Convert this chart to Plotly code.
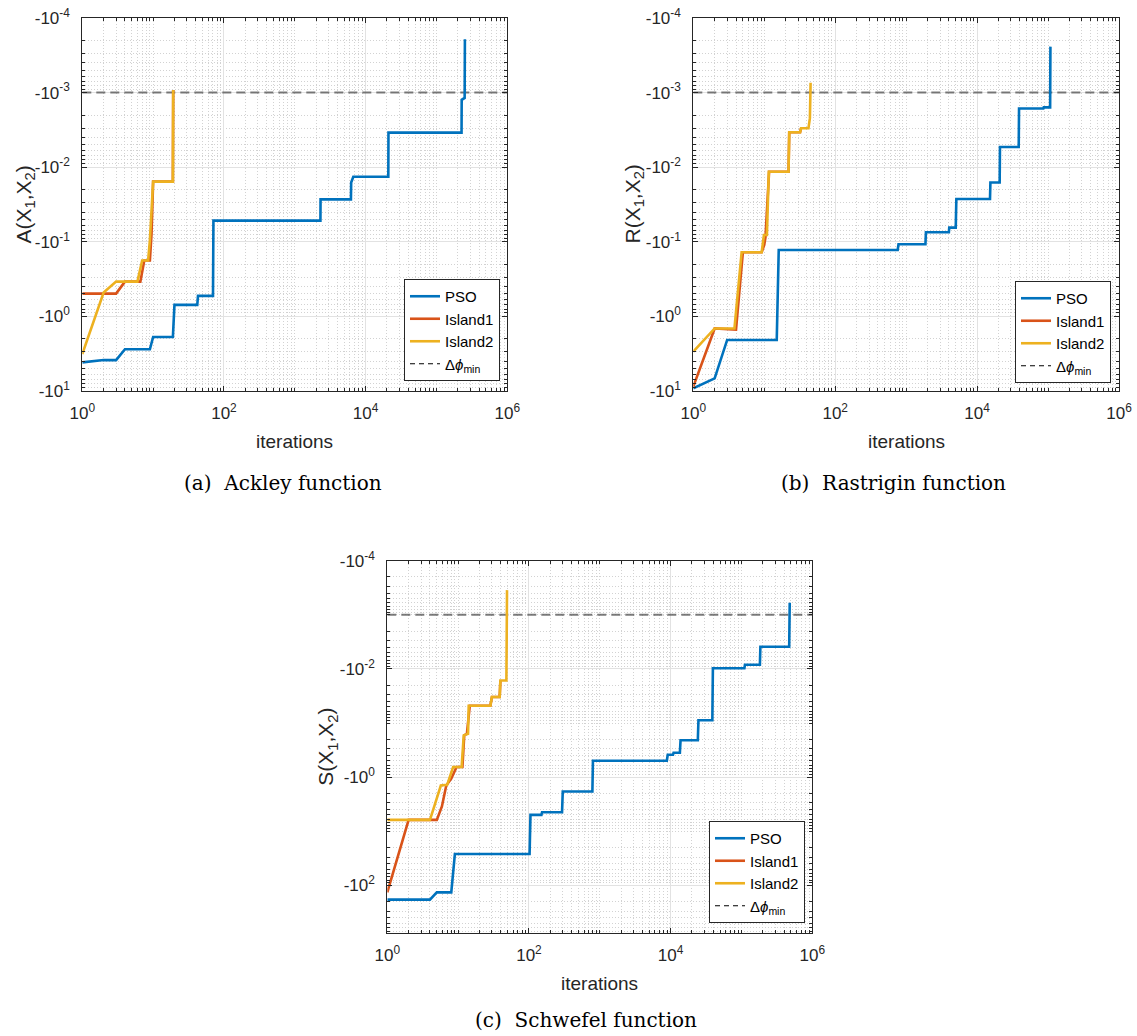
import plotly.graph_objects as go

# ---------------- data ----------------
iter_range = [1, 1e6]
delta_phi_min = -1e-3
x_exponents = [0, 2, 4, 6]
y_exponents_ab = [-4, -3, -2, -1, 0, 1]
y_exponents_c = [-4, -2, 0, 2]

# (a) Ackley
ackley_pso_it = [1, 2, 3, 4, 9, 10, 19, 20, 42, 43, 70, 71, 2300, 2310, 6200, 6250, 6700,
                 20900, 21000, 226000, 227000, 250000, 252000]
ackley_pso_f = [-4.13, -3.85, -3.85, -2.76, -2.76, -1.89, -1.89, -0.70, -0.70, -0.53, -0.53,
                -0.052, -0.052, -0.027, -0.027, -0.016, -0.0134, -0.0134, -0.00344, -0.00344,
                -0.00125, -0.00118, -1.93e-4]
ackley_i1_it = [1, 3, 4, 6.6, 7.5, 9, 9.5, 10, 19, 19.2]
ackley_i1_f = [-0.495, -0.495, -0.342, -0.342, -0.178, -0.178, -0.077, -0.0156, -0.0156, -9.2e-4]
ackley_i2_it = [1, 2, 3, 6, 7, 8.5, 9, 10, 19, 19.2]
ackley_i2_f = [-3.19, -0.48, -0.342, -0.342, -0.178, -0.178, -0.0946, -0.0156, -0.0156, -9.2e-4]

# (b) Rastrigin
rastr_pso_it = [1, 2, 3, 15, 16, 760, 780, 1870, 1900, 4000, 4050, 5000, 5100, 15200, 15400,
                20800, 21000, 38600, 39000, 86000, 87000, 107000, 108000]
rastr_pso_f = [-9.2, -6.76, -2.07, -2.07, -0.129, -0.129, -0.108, -0.108, -0.0746, -0.0746,
               -0.0646, -0.0646, -0.0267, -0.0267, -0.0160, -0.0160, -0.00536, -0.00536,
               -0.00163, -0.00163, -0.00158, -0.00158, -2.42e-4]
rastr_i1_it = [1, 2, 4, 5, 9.2, 10, 10.4, 11.7, 22, 22.5, 32, 33]
rastr_i1_f = [-8.75, -1.45, -1.5, -0.138, -0.138, -0.110, -0.087, -0.0115, -0.0115, -0.0034,
              -0.0034, -0.0030]
rastr_i2_it = [1, 2, 3.8, 4.8, 9.2, 9.9, 10.9, 11.6, 22, 22.5, 32, 33, 42, 43, 44, 45]
rastr_i2_f = [-2.97, -1.45, -1.45, -0.138, -0.138, -0.081, -0.081, -0.0115, -0.0115, -0.0034,
              -0.0034, -0.0030, -0.0030, -0.0022, -0.0022, -7.4e-4]

# (c) Schwefel
schw_pso_it = [1, 4, 5, 8, 9, 102, 105, 150, 153, 293, 300, 786, 800, 8840, 9100, 10800, 11000,
               13500, 13800, 24200, 24700, 38800, 39500, 110000, 112000, 182000, 185000,
               472000, 480000]
schw_pso_f = [-184, -184, -135, -135, -26.3, -26.3, -4.99, -4.99, -4.45, -4.45, -1.84, -1.84,
              -0.499, -0.499, -0.386, -0.386, -0.354, -0.354, -0.209, -0.209, -0.089, -0.089,
              -0.0097, -0.0097, -0.0084, -0.0084, -0.0039, -0.0039, -6.0e-4]
schw_i1_it = [1, 2, 5, 5.9, 6.8, 8, 9.5, 11.5, 12.2, 13.3, 14.6, 28.5, 30, 38.6, 39.5]
schw_i1_f = [-135, -6.17, -6.17, -3.49, -1.43, -1.07, -0.65, -0.65, -0.169, -0.158, -0.048,
             -0.048, -0.033, -0.033, -0.0164]
schw_i2_it = [1, 4, 4.6, 5.7, 7, 8.5, 11.2, 12, 13.8, 14.1, 28.5, 30, 38.6, 39.5, 48, 49]
schw_i2_f = [-6.17, -6.17, -3.49, -1.43, -1.39, -0.65, -0.65, -0.169, -0.158, -0.048, -0.048,
             -0.033, -0.033, -0.0164, -0.0164, -3.5e-4]

series_names = ["PSO", "Island1", "Island2"]
ylabels = ["A(X<sub>1</sub>,X<sub>2</sub>)", "R(X<sub>1</sub>,X<sub>2</sub>)",
           "S(X<sub>1</sub>,X<sub>2</sub>)"]
captions = ["(a)\u00a0 Ackley function", "(b)\u00a0 Rastrigin function",
            "(c)\u00a0 Schwefel function"]
xlabel = "iterations"
legend_delta = "\u0394<i>\u03d5</i><sub>min</sub>"

# ---------------- styling ----------------
W, H = 1137, 1036
colors = {"PSO": "#0072BD", "Island1": "#D95319", "Island2": "#EDB120"}
axis_col = "#262626"
grid_major = "#e2e2e2"
grid_minor = "#d2d2d2"
tick_font = dict(family="Liberation Sans, Arial, sans-serif", size=17, color="#262626")
title_font = dict(family="Liberation Sans, Arial, sans-serif", size=19, color="#262626")
ytitle_font = dict(family="Liberation Sans, Arial, sans-serif", size=21, color="#262626")
cap_font = dict(family="DejaVu Serif, serif", size=20, color="#000000")


def px_x(p):
    return p / W


def px_y(p):
    return 1 - p / H


panels = [
    dict(ax="", data=[(ackley_pso_it, ackley_pso_f), (ackley_i1_it, ackley_i1_f),
                      (ackley_i2_it, ackley_i2_f)],
         xpx=(82.3, 507.3), ypx=(18, 391), yexp=y_exponents_ab, yrange=[1, -4],
         legend="legend", leg_pos=(500, 381), ylab_x=24, cap=(282.7, 483)),
    dict(ax="2", data=[(rastr_pso_it, rastr_pso_f), (rastr_i1_it, rastr_i1_f),
                       (rastr_i2_it, rastr_i2_f)],
         xpx=(693.3, 1119), ypx=(18, 391), yexp=y_exponents_ab, yrange=[1, -4],
         legend="legend2", leg_pos=(1111, 383), ylab_x=633, cap=(893, 483)),
    dict(ax="3", data=[(schw_pso_it, schw_pso_f), (schw_i1_it, schw_i1_f),
                       (schw_i2_it, schw_i2_f)],
         xpx=(387.3, 812.3), ypx=(560.7, 932.7), yexp=y_exponents_c, yrange=[2.876, -4],
         legend="legend3", leg_pos=(805, 923), ylab_x=327, cap=(586, 1020)),
]

x_minor = [m * 10 ** e for e in range(0, 6) for m in range(1, 10)
           if not (m == 1 and e in x_exponents)]

fig = go.Figure()
annotations = []
layout = dict(width=W, height=H, margin=dict(l=0, r=0, t=0, b=0, autoexpand=False),
              paper_bgcolor="white", plot_bgcolor="white", showlegend=True)

for idx, p in enumerate(panels):
    xa, ya = "x" + p["ax"], "y" + p["ax"]
    # threshold line
    fig.add_trace(go.Scatter(x=iter_range, y=[-delta_phi_min] * 2, mode="lines",
                             line=dict(color="rgba(90,90,90,0.8)", width=2, dash="9px,5px"),
                             showlegend=False, hoverinfo="skip", xaxis=xa, yaxis=ya))
    for name, (it, f) in zip(series_names, p["data"]):
        fig.add_trace(go.Scatter(x=it, y=[-v for v in f], mode="lines", name=name,
                                 line=dict(color=colors[name], width=2.6),
                                 xaxis=xa, yaxis=ya, legend=p["legend"]))
    fig.add_trace(go.Scatter(x=[None], y=[None], mode="lines", name=legend_delta,
                             line=dict(color="#000000", width=1.2, dash="5px,4px"),
                             xaxis=xa, yaxis=ya, legend=p["legend"]))

    lo, hi = p["yexp"][0], p["yexp"][-1]
    y_minor = [m * 10.0 ** e for e in range(lo, hi + 1) for m in range(1, 10)
               if not (m == 1 and e in p["yexp"])]

    xdom = [px_x(p["xpx"][0]), px_x(p["xpx"][1])]
    ydom = [px_y(p["ypx"][1]), px_y(p["ypx"][0])]
    common = dict(ticks="inside", ticklen=5, tickcolor=axis_col, showline=True,
                  linecolor=axis_col, linewidth=1, mirror="allticks", showgrid=True,
                  gridcolor=grid_major, gridwidth=1, zeroline=False, tickfont=tick_font,
                  automargin=False)
    layout["xaxis" + p["ax"]] = dict(
        type="log", domain=xdom, anchor=ya, range=[0, 6], tickmode="array",
        tickvals=[10.0 ** e for e in x_exponents],
        ticktext=[f"10<sup>{e}</sup>" for e in x_exponents], ticklabelstandoff=7,
        minor=dict(tickmode="array", tickvals=x_minor, ticks="inside", ticklen=3,
                   tickcolor=axis_col, showgrid=True, gridcolor=grid_minor,
                   griddash="1px,2px", gridwidth=1),
        **common)
    layout["yaxis" + p["ax"]] = dict(
        type="log", domain=ydom, anchor=xa, range=p["yrange"], tickmode="array",
        tickvals=[10.0 ** e for e in p["yexp"]],
        ticktext=[f"-10<sup>{e}</sup>" for e in p["yexp"]], ticklabelstandoff=8,
        minor=dict(tickmode="array", tickvals=y_minor, ticks="inside", ticklen=3,
                   tickcolor=axis_col, showgrid=True, gridcolor=grid_minor,
                   griddash="1px,2px", gridwidth=1),
        **common)
    layout[p["legend"]] = dict(
        x=px_x(p["leg_pos"][0]), y=px_y(p["leg_pos"][1]), xanchor="right", yanchor="bottom",
        bgcolor="white", bordercolor=axis_col, borderwidth=1,
        font=dict(family="Liberation Sans, Arial, sans-serif", size=15, color="#000000"),
        tracegroupgap=0)

    # axis titles and caption
    xmid = (p["xpx"][0] + p["xpx"][1]) / 2
    ymid = (p["ypx"][0] + p["ypx"][1]) / 2
    annotations.append(dict(text=xlabel, x=px_x(xmid), y=px_y(p["ypx"][1] + 51),
                            xref="paper", yref="paper", showarrow=False, font=title_font,
                            xanchor="center", yanchor="middle"))
    annotations.append(dict(text=ylabels[idx], x=px_x(p["ylab_x"]), y=px_y(ymid),
                            xref="paper", yref="paper", showarrow=False, font=ytitle_font,
                            textangle=-90, xanchor="center", yanchor="middle"))
    annotations.append(dict(text=captions[idx], x=px_x(p["cap"][0]),
                            y=px_y(p["cap"][1]), xref="paper", yref="paper", showarrow=False,
                            font=cap_font, xanchor="center", yanchor="middle"))

layout["annotations"] = annotations
fig.update_layout(**layout)
fig.write_html("out.html")
